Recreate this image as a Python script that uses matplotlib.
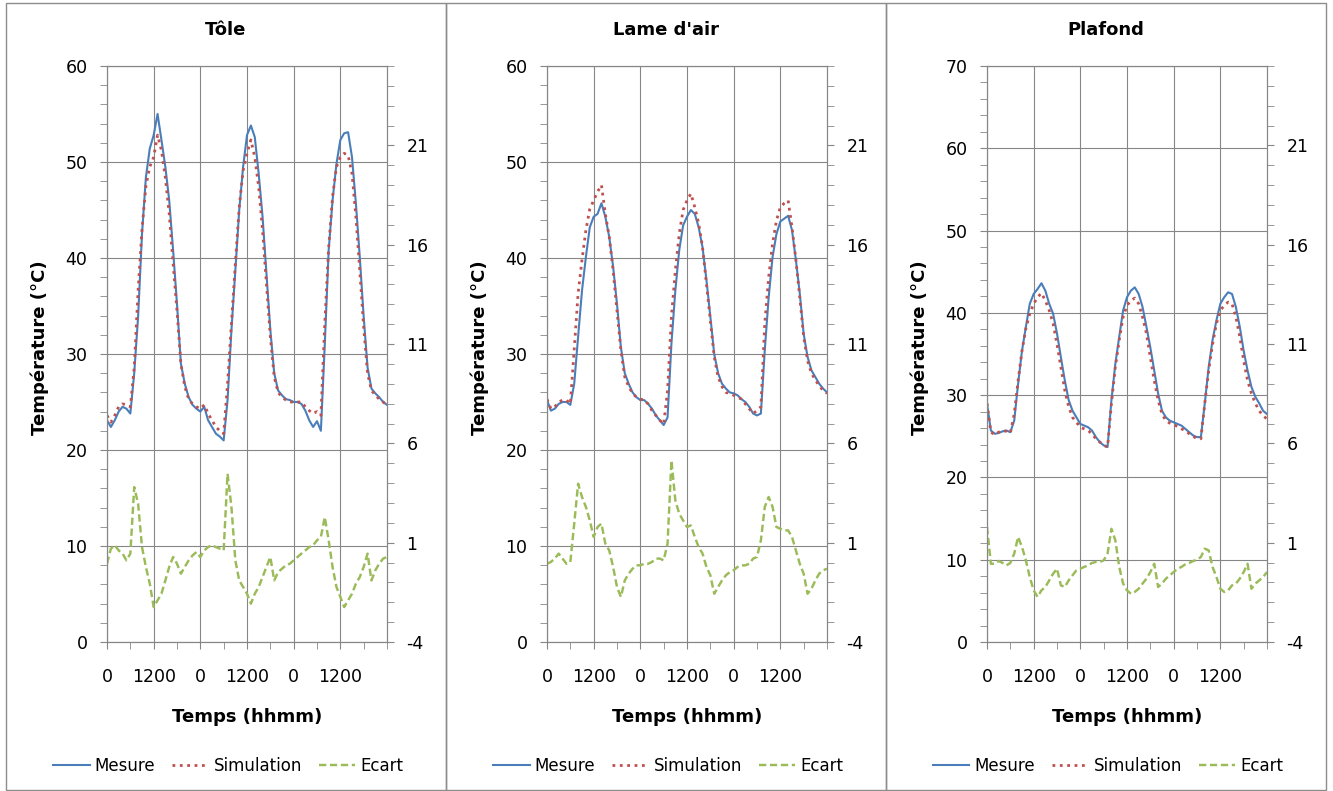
import numpy as np
import matplotlib
matplotlib.use('Agg')
import matplotlib.pyplot as plt
from matplotlib.ticker import MultipleLocator, FixedLocator
from matplotlib.patches import Rectangle

plt.rcParams['axes.unicode_minus'] = False

# heures (0 a 72 h, 3 jours)
heures = np.arange(73)
xticks = [0, 12, 24, 36, 48, 60]
xlabels = ['0', '1200', '0', '1200', '0', '1200']

# Tôle
tole_mesure = [23.1, 22.4, 23.1, 24.0, 24.5, 24.3, 23.8, 28.0, 33.9, 42.5,
               48.4, 51.4, 52.8, 55.0, 52.3, 49.5, 46.0, 40.8, 35.2, 29.0,
               26.9, 25.5, 24.7, 24.3, 24.0, 24.5, 23.1, 22.4, 21.7, 21.4,
               21.0, 25.2, 32.5, 38.7, 45.0, 49.5, 52.8, 53.8, 52.6, 48.8,
               44.3, 38.4, 32.5, 28.0, 26.2, 25.7, 25.3, 25.2, 25.0, 25.0,
               24.8, 24.1, 23.1, 22.4, 23.0, 22.0, 31.0, 40.8, 46.0, 49.8,
               52.3, 53.0, 53.1, 50.5, 45.7, 40.1, 33.9, 28.6, 26.4, 25.9,
               25.5, 25.0, 24.7]
tole_sim = [23.6, 22.9, 23.6, 24.5, 24.8, 24.7, 24.5, 28.6, 36.6, 43.0,
            47.5, 49.5, 50.5, 52.8, 51.2, 48.4, 44.6, 39.4, 34.5, 29.0,
            26.6, 25.3, 24.8, 24.5, 24.3, 24.7, 23.8, 23.1, 22.4, 22.0,
            21.7, 26.9, 33.2, 39.4, 45.3, 49.1, 50.9, 52.3, 50.5, 47.4,
            42.9, 37.3, 31.8, 27.6, 26.0, 25.5, 25.2, 25.0, 25.0, 25.0,
            25.0, 24.5, 24.1, 23.8, 24.0, 23.6, 33.2, 41.1, 46.4, 49.5,
            50.5, 50.9, 50.7, 48.8, 44.3, 38.7, 32.8, 28.0, 26.2, 25.7,
            25.3, 25.0, 24.7]
tole_ecart = [-0.06, 0.7, 0.87, 0.61, 0.45, 0.11, 0.45, 3.8, 2.96, 0.78,
              -0.22, -1.06, -2.24, -1.9, -1.57, -0.9, -0.22, 0.28, -0.06, -0.56,
              -0.22, 0.11, 0.36, 0.53, 0.28, 0.61, 0.78, 0.87, 0.78, 0.7,
              0.61, 4.47, 2.8, 0.11, -0.9, -1.23, -1.57, -2.07, -1.57, -1.23,
              -0.73, -0.22, 0.28, -0.9, -0.48, -0.31, -0.14, -0.06, 0.11, 0.28,
              0.45, 0.61, 0.78, 0.87, 1.12, 1.29, 2.29, 1.12, -0.22, -1.23,
              -1.73, -2.24, -1.9, -1.57, -1.06, -0.73, -0.22, 0.45, -0.9, -0.39,
              -0.06, 0.2, 0.28]

# Lame d'air
lame_mesure = [25.2, 24.1, 24.3, 24.8, 25.0, 25.0, 24.7, 26.9, 31.8, 36.6,
               40.1, 43.2, 44.3, 44.6, 45.7, 44.3, 42.2, 39.1, 35.2, 30.7,
               28.0, 26.9, 26.0, 25.5, 25.2, 25.2, 24.8, 24.3, 23.6, 23.1,
               22.6, 23.4, 31.1, 36.6, 40.8, 43.4, 44.3, 45.0, 44.6, 43.2,
               41.1, 37.7, 33.9, 30.0, 28.0, 26.9, 26.4, 26.0, 25.9, 25.7,
               25.3, 25.0, 24.5, 23.8, 23.6, 23.8, 30.4, 35.9, 40.1, 42.5,
               43.8, 44.1, 44.4, 42.9, 39.8, 36.3, 32.1, 29.7, 28.3, 27.6,
               26.9, 26.4, 26.0]
lame_sim = [25.3, 24.3, 24.5, 25.0, 25.2, 25.2, 24.8, 30.5, 36.3, 39.8,
            42.9, 45.1, 46.0, 46.9, 47.6, 44.6, 42.2, 38.7, 34.5, 30.4,
            27.6, 26.6, 25.9, 25.5, 25.3, 25.2, 24.8, 24.1, 23.6, 23.1,
            22.7, 26.2, 33.9, 38.7, 42.5, 45.0, 46.0, 46.7, 45.3, 43.6,
            41.1, 37.3, 33.5, 29.7, 27.6, 26.6, 26.0, 25.9, 25.7, 25.5,
            25.3, 24.8, 24.3, 23.8, 24.1, 24.5, 33.2, 38.0, 41.5, 43.9,
            45.3, 45.7, 46.0, 43.2, 39.8, 35.9, 31.8, 29.3, 28.0, 27.3,
            26.7, 26.2, 25.9]
lame_ecart = [-0.06, 0.03, 0.2, 0.45, 0.2, -0.06, 0.03, 1.96, 3.97, 3.3,
              2.8, 2.12, 1.29, 1.79, 1.96, 0.95, 0.61, -0.22, -1.23, -1.73,
              -0.9, -0.56, -0.31, -0.14, -0.14, -0.06, -0.06, 0.03, 0.2, 0.2,
              0.11, 0.95, 5.14, 3.13, 2.46, 2.12, 1.79, 1.87, 1.29, 0.78,
              0.45, -0.22, -0.64, -1.57, -1.23, -0.9, -0.64, -0.48, -0.39, -0.22,
              -0.14, -0.14, -0.06, 0.2, 0.28, 1.12, 2.8, 3.3, 2.8, 1.79,
              1.7, 1.62, 1.62, 1.29, 0.61, -0.06, -0.56, -1.57, -1.32, -0.9,
              -0.56, -0.39, -0.31]

# Plafond
plafond_mesure = [29.0, 25.7, 25.3, 25.4, 25.6, 25.7, 25.5, 26.9, 31.4, 35.4,
                  38.3, 41.1, 42.3, 42.9, 43.6, 42.7, 41.1, 39.9, 37.5, 34.6,
                  31.8, 29.4, 28.1, 27.3, 26.5, 26.3, 26.1, 25.7, 24.9, 24.3,
                  23.9, 23.7, 29.4, 33.8, 37.1, 40.3, 41.9, 42.7, 43.1, 42.3,
                  40.7, 38.3, 35.8, 33.0, 30.2, 28.1, 27.3, 26.9, 26.7, 26.5,
                  26.3, 25.9, 25.5, 25.1, 24.9, 24.9, 29.0, 33.4, 36.7, 39.1,
                  41.1, 41.9, 42.5, 42.3, 40.7, 38.3, 35.4, 33.0, 31.0, 29.8,
                  29.0, 28.1, 27.7]
plafond_sim = [29.0, 25.5, 25.2, 25.5, 25.7, 25.6, 25.4, 27.7, 31.8, 35.4,
               38.1, 39.9, 41.1, 41.9, 42.4, 41.5, 40.3, 38.7, 36.2, 33.4,
               30.6, 28.6, 27.3, 26.7, 26.1, 25.9, 25.7, 25.3, 24.7, 24.3,
               23.9, 23.7, 29.0, 33.4, 36.7, 39.5, 40.9, 41.5, 41.8, 41.1,
               39.5, 37.5, 34.6, 31.8, 29.4, 27.7, 26.9, 26.6, 26.4, 26.2,
               25.9, 25.7, 25.3, 25.0, 24.7, 24.7, 29.0, 33.0, 36.2, 38.7,
               40.3, 40.9, 41.3, 41.1, 39.5, 37.1, 34.2, 31.8, 30.2, 29.0,
               28.1, 27.5, 27.1]
plafond_ecart = [1.79, -0.06, -0.06, 0.08, -0.02, -0.14, -0.02, 0.45, 1.29, 0.78,
                 0.11, -0.73, -1.4, -1.73, -1.4, -1.23, -0.9, -0.56, -0.31, -1.15,
                 -1.23, -0.9, -0.64, -0.39, -0.31, -0.22, -0.14, -0.02, 0.03, 0.03,
                 0.11, 0.45, 1.7, 1.12, -0.22, -1.06, -1.4, -1.57, -1.48, -1.32,
                 -1.06, -0.81, -0.48, -0.06, -1.23, -1.06, -0.81, -0.64, -0.48, -0.31,
                 -0.22, -0.09, -0.02, 0.08, 0.14, 0.28, 0.7, 0.61, -0.22, -0.73,
                 -1.32, -1.48, -1.4, -1.15, -1.06, -0.81, -0.48, -0.06, -1.32, -1.06,
                 -0.9, -0.73, -0.48]

panneaux = [('Tôle', tole_mesure, tole_sim, tole_ecart, 60),
            ("Lame d'air", lame_mesure, lame_sim, lame_ecart, 60),
            ('Plafond', plafond_mesure, plafond_sim, plafond_ecart, 70)]

W, H = 1333, 791
gris = '#868686'
bleu = '#4A7EBB'
rouge = '#C0504D'
vert = '#9BBB59'

fig = plt.figure(figsize=(W / 100, H / 100), dpi=100)

for i, (titre, mes, sim, ec, ymax) in enumerate(panneaux):
    x0 = 6 + 440 * i
    fig.patches.append(Rectangle((x0 / W, 1 - 790 / H), 440 / W, 787 / H,
                                 transform=fig.transFigure, fill=False,
                                 edgecolor='#8c8c8c', lw=1))

    ax = fig.add_axes([(107 + 440 * i) / W, 1 - 642 / H, 280 / W, 576 / H])
    l1, = ax.plot(heures, mes, color=bleu, lw=1.5)
    l2, = ax.plot(heures, sim, color=rouge, lw=2, ls=':')
    ax.set_xlim(0, 72)
    ax.set_ylim(0, ymax)
    ax.xaxis.set_major_locator(FixedLocator(xticks))
    ax.set_xticklabels(xlabels)
    ax.xaxis.set_minor_locator(FixedLocator([6, 18, 30, 42, 54, 66, 72]))
    ax.yaxis.set_major_locator(MultipleLocator(10))
    ax.yaxis.set_minor_locator(MultipleLocator(2))
    ax.grid(True, which='major', color=gris, lw=0.8)
    ax.tick_params(which='both', direction='out', length=5, color=gris, labelsize=12.5)
    ax.tick_params(axis='x', which='both', pad=14)
    ax.tick_params(axis='y', which='both', pad=9)
    for s in ax.spines.values():
        s.set_color(gris)

    ax2 = ax.twinx()
    l3, = ax2.plot(heures, ec, color=vert, lw=1.75, ls=(0, (3, 1.5)))
    ax2.set_ylim(-4, 25)
    ax2.yaxis.set_major_locator(FixedLocator([-4, 1, 6, 11, 16, 21]))
    ax2.yaxis.set_minor_locator(MultipleLocator(1))
    ax2.tick_params(which='both', direction='out', length=5, color=gris, labelsize=12.5, pad=9)
    for s in ax2.spines.values():
        s.set_color(gris)

    fig.text((x0 + 220) / W, 1 - 30 / H, titre, ha='center', va='center',
             fontsize=13, fontweight='bold')
    fig.text((40 + 440 * i) / W, 1 - 348 / H, 'Température (°C)', rotation=90,
             ha='center', va='center', fontsize=13, fontweight='bold')
    fig.text((247 + 440 * i) / W, 1 - 717 / H, 'Temps (hhmm)', ha='center',
             va='center', fontsize=13, fontweight='bold')
    fig.legend([l1, l2, l3], ['Mesure', 'Simulation', 'Ecart'], loc='center',
               bbox_to_anchor=((x0 + 222) / W, 1 - 766 / H), ncol=3, frameon=False,
               fontsize=12, handlelength=2.2, handletextpad=0.3, columnspacing=1.0)

fig.savefig('out.png', dpi=100)
